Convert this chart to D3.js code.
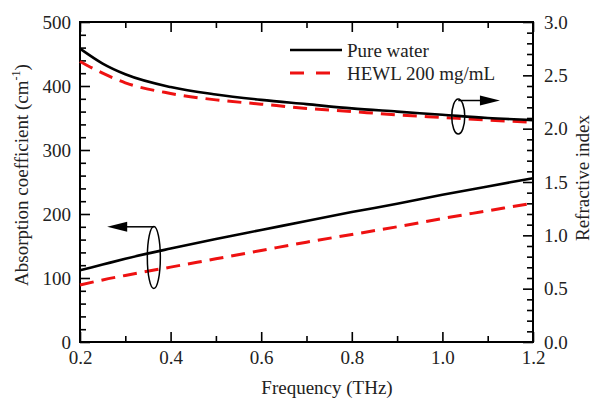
<!DOCTYPE html>
<html>
<head>
<meta charset="utf-8">
<script src="https://cdn.jsdelivr.net/npm/d3@7"></script>
<style>
  body { margin: 0; background: #fff; }
  svg text { font-family: "Liberation Serif", "Times New Roman", serif; fill: #222; }
</style>
</head>
<body>
<div id="root"></div>
<script>
// data
const freq = [0.2, 0.25, 0.3, 0.4, 0.5, 0.6, 0.7, 0.8, 0.9, 1.0, 1.1, 1.2]
const absWater = [112, 121, 130, 146, 161, 175, 189, 203, 216, 230, 243, 256]
const absHewl = [89, 97, 104, 117, 130, 143, 156, 168, 180, 193, 205, 217]
const nWater = [2.75, 2.61, 2.51, 2.39, 2.32, 2.27, 2.23, 2.19, 2.16, 2.13, 2.10, 2.08]
const nHewl = [2.63, 2.52, 2.43, 2.33, 2.27, 2.23, 2.19, 2.16, 2.13, 2.105, 2.08, 2.06]

const xTicks = [0.2, 0.4, 0.6, 0.8, 1.0, 1.2]
const xMinor = [0.3, 0.5, 0.7, 0.9, 1.1]
const leftTicks = [0, 100, 200, 300, 400, 500]
const rightTicks = [0, 0.5, 1.0, 1.5, 2.0, 2.5, 3.0]
const seriesNames = ['Pure water', 'HEWL 200 mg/mL']

const svg = d3.select('#root').append('svg')
  .attr('width', 593)
  .attr('height', 400)

const mLeft = 80, mRight = 533, mTop = 22, mBottom = 342

const x = d3.scaleLinear().domain([0.2, 1.2]).range([mLeft, mRight])
const yL = d3.scaleLinear().domain([0, 500]).range([mBottom, mTop])
const yR = d3.scaleLinear().domain([0, 3]).range([mBottom, mTop])

const fs = 19
const major = 10, minor = 6
const red = '#ee1111'

function styleAxis(g) {
  g.selectAll('.domain').remove()
  g.selectAll('line').attr('stroke', '#000').attr('stroke-width', 1.6)
  g.selectAll('text')
    .style('font-family', '"Liberation Serif", serif')
    .style('font-size', fs + 'px')
    .attr('fill', '#222')
}

// bottom
svg.append('g').attr('transform', `translate(0,${mBottom})`)
  .call(d3.axisBottom(x).tickValues(xTicks).tickSize(-major).tickPadding(9)
    .tickFormat(d3.format('.1f')))
  .call(styleAxis)
svg.append('g').attr('transform', `translate(0,${mBottom})`)
  .call(d3.axisBottom(x).tickValues(xMinor).tickSize(-minor).tickFormat(''))
  .call(styleAxis)
// top
svg.append('g').attr('transform', `translate(0,${mTop})`)
  .call(d3.axisTop(x).tickValues(xTicks).tickSize(-major).tickFormat(''))
  .call(styleAxis)
svg.append('g').attr('transform', `translate(0,${mTop})`)
  .call(d3.axisTop(x).tickValues(xMinor).tickSize(-minor).tickFormat(''))
  .call(styleAxis)
// left
svg.append('g').attr('transform', `translate(${mLeft},0)`)
  .call(d3.axisLeft(yL).tickValues(leftTicks).tickSize(-major).tickPadding(9))
  .call(styleAxis)
svg.append('g').attr('transform', `translate(${mLeft},0)`)
  .call(d3.axisLeft(yL).tickValues(d3.range(20, 500, 20).filter(v => v % 100)).tickSize(-minor).tickFormat(''))
  .call(styleAxis)
// right
svg.append('g').attr('transform', `translate(${mRight},0)`)
  .call(d3.axisRight(yR).tickValues(rightTicks).tickSize(-major).tickPadding(11)
    .tickFormat(d3.format('.1f')))
  .call(styleAxis)
svg.append('g').attr('transform', `translate(${mRight},0)`)
  .call(d3.axisRight(yR).tickValues(d3.range(1, 30).filter(v => v % 5).map(v => v / 10)).tickSize(-minor).tickFormat(''))
  .call(styleAxis)

// frame
svg.append('rect')
  .attr('x', mLeft).attr('y', mTop)
  .attr('width', mRight - mLeft).attr('height', mBottom - mTop)
  .attr('fill', 'none').attr('stroke', '#000').attr('stroke-width', 2)

// curves
const rows = freq.map((f, i) => ({ f, aw: absWater[i], ah: absHewl[i], nw: nWater[i], nh: nHewl[i] }))

function curve(y, key) {
  return d3.line().x(d => x(d.f)).y(d => y(d[key])).curve(d3.curveMonotoneX)
}

const plot = svg.append('g')
plot.append('path').datum(rows).attr('d', curve(yR, 'nh'))
  .attr('fill', 'none').attr('stroke', red).attr('stroke-width', 3).attr('stroke-dasharray', '14,8')
plot.append('path').datum(rows).attr('d', curve(yR, 'nw'))
  .attr('fill', 'none').attr('stroke', '#000').attr('stroke-width', 2.6)
plot.append('path').datum(rows).attr('d', curve(yL, 'ah'))
  .attr('fill', 'none').attr('stroke', red).attr('stroke-width', 3).attr('stroke-dasharray', '14,8')
plot.append('path').datum(rows).attr('d', curve(yL, 'aw'))
  .attr('fill', 'none').attr('stroke', '#000').attr('stroke-width', 2.6)

// ellipse + arrow markers
function marker(cx, cy, ry, lineY, tipX) {
  svg.append('ellipse')
    .attr('cx', cx).attr('cy', cy).attr('rx', 6.5).attr('ry', ry)
    .attr('fill', 'none').attr('stroke', '#000').attr('stroke-width', 1.5)
  const dir = tipX > cx ? 1 : -1
  svg.append('line')
    .attr('x1', cx).attr('y1', lineY).attr('x2', tipX - dir * 18).attr('y2', lineY)
    .attr('stroke', '#000').attr('stroke-width', 1.5)
  svg.append('path')
    .attr('d', `M${tipX},${lineY}L${tipX - dir * 20},${lineY - 5}L${tipX - dir * 20},${lineY + 5}Z`)
    .attr('fill', '#000')
}
marker(x(0.363), yL(132), 31, yL(180), x(0.26))
marker(x(1.035), yR(2.114), 17.5, yR(2.264), x(1.127))

// legend
const legend = svg.append('g').attr('transform', 'translate(290,50)')
seriesNames.forEach((name, i) => {
  const g = legend.append('g').attr('transform', `translate(0,${i * 23})`)
  g.append('line').attr('x1', 0).attr('x2', 52)
    .attr('stroke', i ? red : '#000')
    .attr('stroke-width', i ? 3 : 2.6)
    .attr('stroke-dasharray', i ? '14,12' : null)
  g.append('text').attr('x', 57).attr('y', 6.5)
    .style('font-size', fs + 'px').text(name)
})

// axis titles
svg.append('text')
  .attr('x', 327).attr('y', 394)
  .attr('text-anchor', 'middle')
  .style('font-size', fs + 'px')
  .text('Frequency (THz)')

const lt = svg.append('text')
  .attr('transform', 'translate(28,175) rotate(-90)')
  .attr('text-anchor', 'middle')
  .style('font-size', fs + 'px')
lt.append('tspan').text('Absorption coefficient (cm')
lt.append('tspan').attr('dy', -8).style('font-size', '12px').text('-1')
lt.append('tspan').attr('dy', 8).text(')')

svg.append('text')
  .attr('transform', 'translate(589,178) rotate(-90)')
  .attr('text-anchor', 'middle')
  .style('font-size', fs + 'px')
  .text('Refractive index')
</script>
</body>
</html>
